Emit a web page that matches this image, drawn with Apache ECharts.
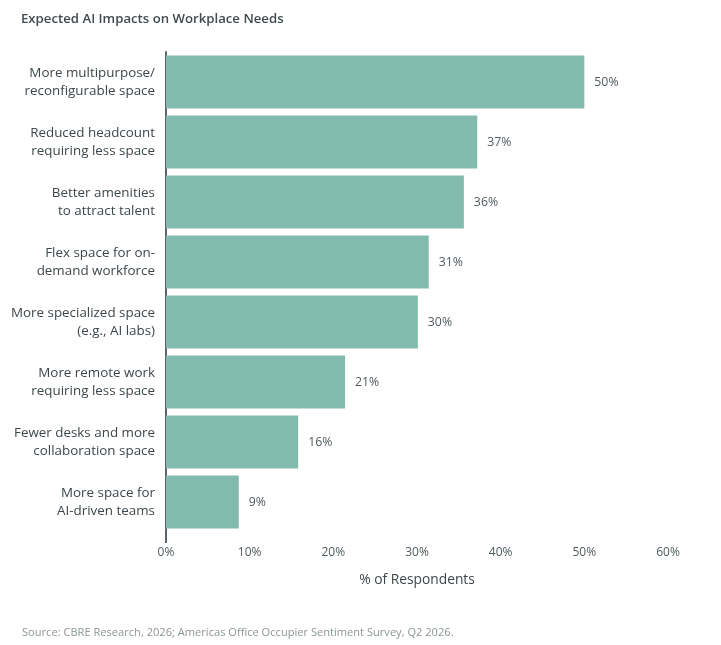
<!DOCTYPE html>
<html>
<head>
<meta charset="utf-8">
<script src="https://cdn.jsdelivr.net/npm/echarts@6/dist/echarts.min.js"></script>
<style>
html,body{margin:0;padding:0;background:#fff;}
#chart{width:721px;height:645px;}
</style>
</head>
<body>
<div id="chart"></div>
<script>
const categories = [
  "More multipurpose/\nreconfigurable space",
  "Reduced headcount\nrequiring less space",
  "Better amenities\nto attract talent",
  "Flex space for on-\ndemand workforce",
  "More specialized space\n(e.g., AI labs)",
  "More remote work\nrequiring less space",
  "Fewer desks and more\ncollaboration space",
  "More space for\nAI-driven teams"
];
const values = [50.0, 37.2, 35.6, 31.4, 30.1, 21.4, 15.8, 8.7];
const valueLabels = ["50%", "37%", "36%", "31%", "30%", "21%", "16%", "9%"];
const xTicks = [0, 10, 20, 30, 40, 50, 60];

const FONT = '"Open Sans", Roboto, sans-serif';
const chart = echarts.init(document.getElementById('chart'), null, {renderer: 'canvas'});
chart.setOption({
  animation: false,
  backgroundColor: '#ffffff',
  textStyle: {fontFamily: FONT},
  title: [{
    text: 'Expected AI Impacts on Workplace Needs',
    left: 16, top: 8,
    textStyle: {fontFamily: FONT, fontSize: 13.2, fontWeight: 600, color: '#414b4f'}
  }, {
    text: 'Source: CBRE Research, 2026; Americas Office Occupier Sentiment Survey, Q2 2026.',
    left: 17, top: 622,
    textStyle: {fontFamily: FONT, fontSize: 11.1, fontWeight: 'normal', color: '#8b9598'}
  }],
  grid: {left: 166, right: 53, top: 52, bottom: 113, containLabel: false},
  xAxis: {
    type: 'value',
    min: xTicks[0], max: xTicks[xTicks.length - 1], interval: 10,
    name: '% of Respondents',
    nameLocation: 'middle',
    nameGap: 41,
    nameTextStyle: {fontFamily: FONT, fontSize: 13.8, color: '#3d474b'},
    axisLine: {show: false},
    axisTick: {show: true, customValues: [0], length: 11, lineStyle: {color: '#59636a', width: 2}},
    axisLabel: {formatter: '{value}%', fontSize: 12, color: '#4f5a5e', margin: 15},
    splitLine: {show: true, lineStyle: {color: '#d8dcdd', width: 1}}
  },
  yAxis: {
    type: 'category',
    data: categories,
    inverse: true,
    axisLine: {show: true, lineStyle: {color: '#59636a', width: 2}},
    axisTick: {show: false},
    axisLabel: {fontSize: 13.4, color: '#3d474b', lineHeight: 18, margin: 11, align: 'right', padding: [4, 0, 0, 0]},
    splitLine: {show: false}
  },
  series: [{
    type: 'bar',
    data: values,
    barCategoryGap: '12%',
    itemStyle: {color: '#82bbad'},
    label: {
      show: true, position: 'right', distance: 10,
      fontSize: 12.3, color: '#4f5a5e', padding: [5, 0, 0, 0],
      formatter: p => valueLabels[p.dataIndex]
    }
  }]
});
</script>
</body>
</html>
